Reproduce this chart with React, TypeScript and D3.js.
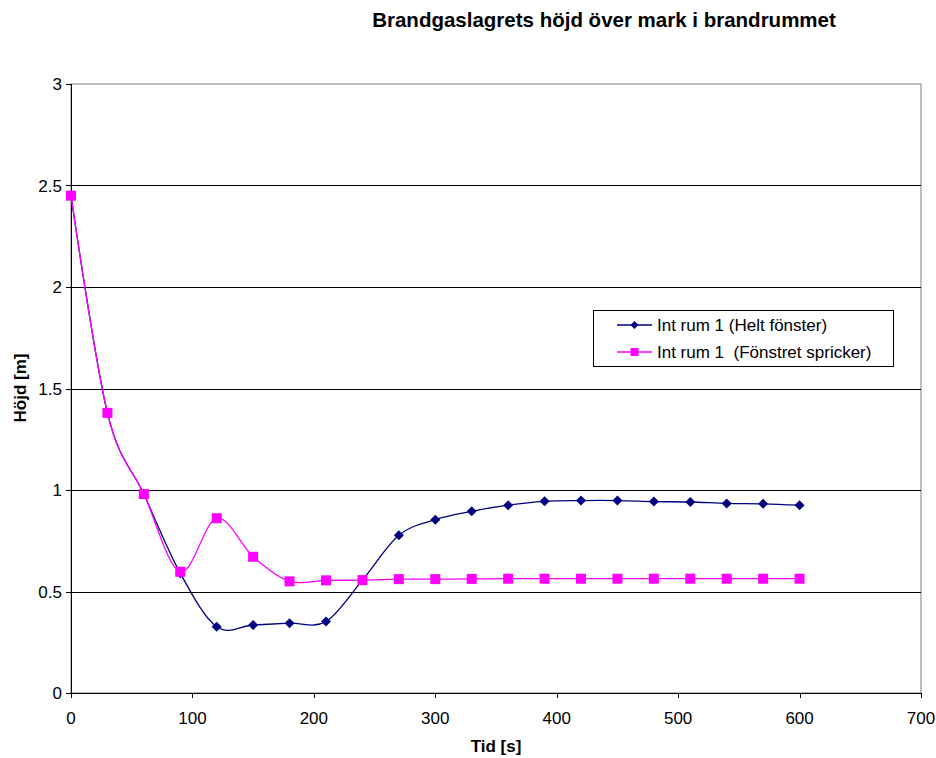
import React from "react";
import * as d3 from "d3";

const times = [0, 30, 60, 90, 120, 150, 180, 210, 240, 270, 300, 330, 360, 390, 420, 450, 480, 510, 540, 570, 600];
const heltFonster = [2.45, 1.38, 0.98, 0.59, 0.326, 0.335, 0.344, 0.352, 0.556, 0.777, 0.854, 0.895, 0.925, 0.944, 0.948, 0.948, 0.943, 0.941, 0.934, 0.932, 0.925];
const fonstretSpricker = [2.45, 1.38, 0.98, 0.597, 0.861, 0.671, 0.55, 0.555, 0.556, 0.561, 0.561, 0.562, 0.563, 0.563, 0.563, 0.563, 0.563, 0.563, 0.563, 0.563, 0.563];
const xTicks = [0, 100, 200, 300, 400, 500, 600, 700];
const yTicks = [0, 0.5, 1, 1.5, 2, 2.5, 3];
const yTickLabels = ["0", "0.5", "1", "1.5", "2", "2.5", "3"];
const seriesNames = ["Int rum 1 (Helt fönster)", "Int rum 1  (Fönstret spricker)"];

const FONT = "'Liberation Sans', Arial, sans-serif";

export default function App() {
  const W = 936, H = 758;
  const left = 71, right = 921, top = 84, bottom = 693;
  const x = d3.scaleLinear().domain([0, 700]).range([left, right]);
  const y = d3.scaleLinear().domain([0, 3]).range([bottom, top]);
  const line = d3
    .line<number>()
    .x((_, i) => x(times[i]))
    .y((d) => y(d))
    .curve(d3.curveCardinal.tension(0));

  const navy = "#000080";
  const pink = "#FF00FF";
  const diamond = (cx: number, cy: number, r = 5) =>
    `M${cx},${cy - r}L${cx + r},${cy}L${cx},${cy + r}L${cx - r},${cy}Z`;

  return (
    <svg width={W} height={H} style={{ position: "absolute", left: 0, top: 0, display: "block" }}>
      <rect x={0} y={0} width={W} height={H} fill="#fff" />
      <rect x={left} y={top} width={right - left} height={bottom - top} fill="none" stroke="#808080" strokeWidth={1} />
      {yTicks.filter((t) => t > 0 && t < 3).map((t) => (
        <line key={t} x1={left} x2={right} y1={Math.round(y(t)) + 0.5} y2={Math.round(y(t)) + 0.5} stroke="#000" strokeWidth={1} />
      ))}
      <line x1={left + 0.5} x2={left + 0.5} y1={top} y2={bottom} stroke="#000" strokeWidth={1} />
      <line x1={left} x2={right} y1={bottom + 0.5} y2={bottom + 0.5} stroke="#000" strokeWidth={1} />
      {yTicks.map((t, i) => (
        <g key={t}>
          <line x1={left - 5} x2={left} y1={Math.round(y(t)) + 0.5} y2={Math.round(y(t)) + 0.5} stroke="#000" />
          <text x={62} y={y(t) + 6} textAnchor="end" fontFamily={FONT} fontSize={17}>{yTickLabels[i]}</text>
        </g>
      ))}
      {xTicks.map((t) => (
        <g key={t}>
          <line x1={Math.round(x(t)) + 0.5} x2={Math.round(x(t)) + 0.5} y1={bottom} y2={bottom + 5} stroke="#000" />
          <text x={x(t)} y={724} textAnchor="middle" fontFamily={FONT} fontSize={17}>{t}</text>
        </g>
      ))}
      <path d={line(heltFonster) || ""} fill="none" stroke={navy} strokeWidth={1.3} />
      {heltFonster.map((v, i) => (
        <path key={"d" + i} d={diamond(x(times[i]), y(v))} fill={navy} />
      ))}
      <path d={line(fonstretSpricker) || ""} fill="none" stroke={pink} strokeWidth={1.3} />
      {fonstretSpricker.map((v, i) => (
        <rect key={"s" + i} x={x(times[i]) - 5} y={y(v) - 5} width={10} height={10} fill={pink} />
      ))}
      <text x={604} y={27} textAnchor="middle" fontFamily={FONT} fontSize={20.5} fontWeight="bold">Brandgaslagrets höjd över mark i brandrummet</text>
      <text x={496} y={752} textAnchor="middle" fontFamily={FONT} fontSize={17} fontWeight="bold">Tid [s]</text>
      <text transform={`translate(26,${388}) rotate(-90)`} textAnchor="middle" fontFamily={FONT} fontSize={17} fontWeight="bold">Höjd [m]</text>
      <rect x={593.5} y={310.5} width={300} height={56} fill="#fff" stroke="#000" strokeWidth={1} />
      <line x1={617} x2={652} y1={325} y2={325} stroke={navy} strokeWidth={1.3} />
      <path d={diamond(634.5, 325, 4)} fill={navy} />
      <text x={657} y={331} fontFamily={FONT} fontSize={17}>{seriesNames[0]}</text>
      <line x1={617} x2={652} y1={352} y2={352} stroke={pink} strokeWidth={1.3} />
      <rect x={630.5} y={348} width={8} height={8} fill={pink} />
      <text x={657} y={358} fontFamily={FONT} fontSize={17} style={{ whiteSpace: "pre" }}>{seriesNames[1]}</text>
    </svg>
  );
}
